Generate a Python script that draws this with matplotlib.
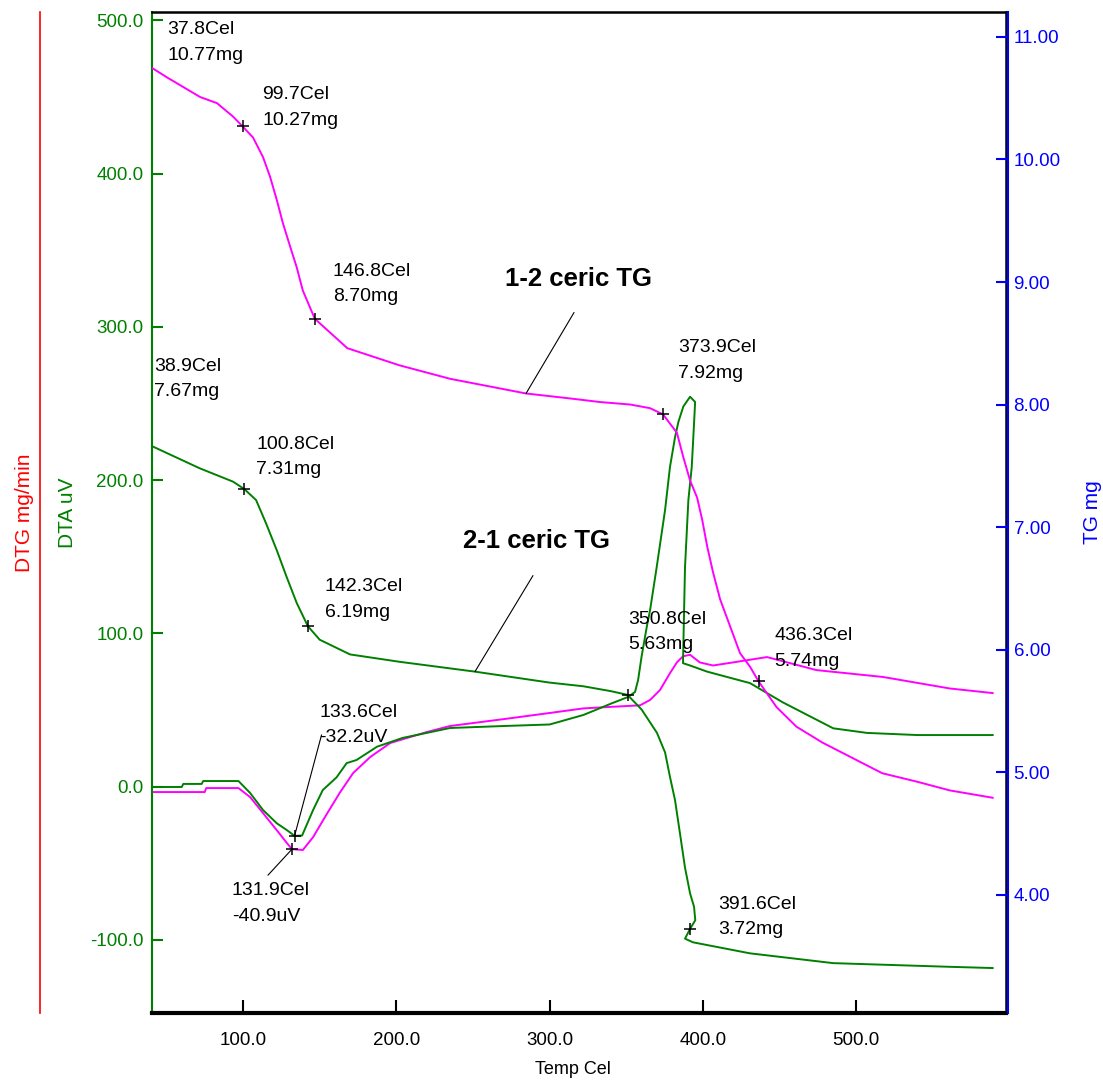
import matplotlib
matplotlib.use("Agg")
import matplotlib.pyplot as plt
import numpy as np

plt.rcParams['font.family'] = ['Liberation Sans', 'DejaVu Sans']

GREEN = '#008000'
MAGENTA = '#ff00ff'
BLUE = '#0000ff'
RED = '#ff0000'

# ---- data ----
# TG of "1-2 ceric" (magenta, mg)
tg12_T = [37.8, 50.4, 72, 83, 93.5, 99.7, 106.5, 113, 117.6, 122, 126, 130.7, 135, 139, 146.8,
          168, 202, 235, 284.6, 313, 333, 352.5, 365.5, 373.9, 383, 387.2, 391.6, 396.2,
          399.5, 402.8, 406.6, 411.2, 417.7, 424.2, 430.7, 436.3, 448, 461, 478, 517, 540,
          561, 589]
tg12_mg = [10.77, 10.67, 10.51, 10.46, 10.35, 10.27, 10.18, 10.02, 9.86, 9.67, 9.48, 9.29, 9.12,
           8.93, 8.70, 8.46, 8.32, 8.21, 8.09, 8.05, 8.02, 8.00, 7.97, 7.92, 7.77, 7.57, 7.38,
           7.24, 7.06, 6.84, 6.63, 6.41, 6.19, 5.97, 5.86, 5.74, 5.53, 5.37, 5.24, 4.99, 4.92,
           4.85, 4.79]

# TG of "2-1 ceric" (green, mg)
tg21_T = [38.9, 71.6, 93.5, 100.8, 108.5, 115, 122, 128.5, 135, 142.3, 150, 169.8, 202, 251,
          300, 322, 340, 350.8, 360, 370, 375.3, 378.5, 381.8, 385, 388.3, 391.6, 394.2,
          395, 391.6, 388.3, 393.5, 430.7, 485, 561, 589]
tg21_mg = [7.67, 7.48, 7.37, 7.31, 7.22, 7.03, 6.81, 6.59, 6.38, 6.19, 6.08, 5.96, 5.90, 5.82,
           5.73, 5.70, 5.66, 5.63, 5.51, 5.32, 5.16, 4.96, 4.77, 4.50, 4.22, 4.01, 3.90,
           3.79, 3.72, 3.64, 3.61, 3.52, 3.44, 3.41, 3.40]

# DTA of "2-1 ceric" (green, uV)
dta21_T = [38.9, 60, 61, 73, 74, 97, 104.6, 113, 122, 128.7, 133.6, 138.5, 145.7, 152,
           161, 167.6, 174, 187.4, 204, 235, 270, 300, 322, 341, 351, 355.7, 357.7, 360,
           363.5, 365.5, 369.8, 375.3, 378.5, 381.8, 384, 387.2, 391.6, 394.9, 394.2,
           392.7, 390.5, 388.3, 387.2, 387, 391.6, 402.7, 430.7, 452, 485, 507, 540, 589]
dta21_uV = [-0.3, -0.3, 1.7, 1.7, 3.6, 3.6, -4.2, -15.3, -24, -28.5, -32.2, -32, -15.3, -2.3,
            6, 15.3, 17.3, 26, 31.7, 38.2, 39.5, 40.5, 46.7, 54.5, 58.4, 61.7, 69.5, 85,
            105, 115, 143, 180.5, 208.6, 228, 238, 248, 254.4, 251, 237,
            208.6, 187, 143, 91, 80.5, 79, 75, 67.5, 55, 38, 35, 33.6, 33.6]

# DTA of "1-2 ceric" (magenta, uV)
dta12_T = [37.8, 75, 76, 97, 104.6, 113, 122, 128.7, 131.9, 139, 145.7, 155, 163, 171.8,
           183, 196, 220, 235, 270, 300, 322, 340, 359, 365.5, 372, 378.5, 383, 387,
           391.6, 398, 406.6, 419.6, 441.8, 474, 517.5, 561, 589]
dta12_uV = [-3.6, -3.6, -1, -1, -6.9, -17.3, -28.5, -37, -40.9, -41.4, -33, -17.3, -4.2, 8.8,
            19.3, 28.4, 35.6, 39.5, 44, 48, 51, 52, 53, 56.5, 63, 74, 81, 85,
            86, 81, 79, 81, 84.5, 76, 71.5, 64, 61]

# annotated points
tg12_note_T = [37.8, 99.7, 146.8, 373.9, 436.3]
tg12_note_mg = [10.77, 10.27, 8.70, 7.92, 5.74]
tg21_note_T = [38.9, 100.8, 142.3, 350.8, 391.6]
tg21_note_mg = [7.67, 7.31, 6.19, 5.63, 3.72]
dta_note_T = [133.6, 131.9]
dta_note_uV = [-32.2, -40.9]

x_ticks = [100, 200, 300, 400, 500]
dta_ticks = [-100, 0, 100, 200, 300, 400, 500]
tg_ticks = [4, 5, 6, 7, 8, 9, 10, 11]

# text offsets (pixels) for the labels
tg12_off = [(20, 44), (20, 40), (18, 56), (15, 75), (16, 54)]
tg21_off = [(5, 87), (12, 53), (17, 48), (1, 84), (28, 33)]
dta_off = [(25, 132), (-60, -33)]

# ---- figure ----
fig = plt.figure(figsize=(11.03, 10.86), dpi=100)
W, H = 1103, 1086
L, R, T, B = 152, 1006, 12, 1013
ax = fig.add_axes([L / W, 1 - B / H, (R - L) / W, (B - T) / H])
ax2 = ax.twinx()
ax3 = ax.twinx()

ax.set_xlim(40.6, 597.7)
ax.set_ylim(-147.8, 505.5)
ax2.set_ylim(3.033, 11.204)

ax.plot(dta12_T, dta12_uV, color=MAGENTA, lw=1.4)
ax.plot(dta21_T, dta21_uV, color=GREEN, lw=1.4)
ax2.plot(tg12_T, tg12_mg, color=MAGENTA, lw=1.4)
ax2.plot(tg21_T, tg21_mg, color=GREEN, lw=1.4)

# markers
ax2.plot(tg12_note_T[1:], tg12_note_mg[1:], ls='none', marker='+', ms=8, mew=1.1, color='black')
ax2.plot(tg21_note_T[1:], tg21_note_mg[1:], ls='none', marker='+', ms=8, mew=1.1, color='black')
ax.plot(dta_note_T, dta_note_uV, ls='none', marker='+', ms=8, mew=1.1, color='black')

note_kw = dict(textcoords='offset pixels', ha='left', va='top', fontsize=14,
               linespacing=1.65, annotation_clip=False)
for t, m, off in zip(tg12_note_T, tg12_note_mg, tg12_off):
    ax2.annotate(f"{t:.1f}Cel\n{m:.2f}mg", xy=(t, m), xytext=off, **note_kw)
for t, m, off in zip(tg21_note_T, tg21_note_mg, tg21_off):
    ax2.annotate(f"{t:.1f}Cel\n{m:.2f}mg", xy=(t, m), xytext=off, **note_kw)
for t, v, off in zip(dta_note_T, dta_note_uV, dta_off):
    ax.annotate(f"{t:.1f}Cel\n{v:.1f}uV", xy=(t, v), xytext=off, **note_kw)

# leader lines
lead = dict(arrowstyle='-', color='black', lw=0.8, shrinkA=0, shrinkB=0)
ax.annotate('', xy=(dta_note_T[0], dta_note_uV[0]), xytext=(27, 101),
            textcoords='offset pixels', arrowprops=lead)
ax.annotate('', xy=(dta_note_T[1], dta_note_uV[1]), xytext=(-24, -26),
            textcoords='offset pixels', arrowprops=lead)

# curve names
ax2.annotate('', xy=(284.6, 8.09), xytext=(48, 81), textcoords='offset pixels', arrowprops=lead)
ax2.annotate('1-2 ceric TG', xy=(284.6, 8.09), xytext=(-21, 126), textcoords='offset pixels',
             ha='left', va='top', fontsize=18.5, fontweight='bold')
ax2.annotate('', xy=(251.3, 5.82), xytext=(58, 96), textcoords='offset pixels', arrowprops=lead)
ax2.annotate('2-1 ceric TG', xy=(251.3, 5.82), xytext=(-12, 143), textcoords='offset pixels',
             ha='left', va='top', fontsize=18.5, fontweight='bold')

# ---- axes styling ----
ax.set_xticks(x_ticks)
ax.set_xticklabels([f"{v:.1f}" for v in x_ticks])
ax.set_yticks(dta_ticks)
ax.set_yticklabels([f"{v:.1f}" for v in dta_ticks])
ax2.set_yticks(tg_ticks)
ax2.set_yticklabels([f"{v:.2f}" for v in tg_ticks])

ax.tick_params(axis='x', direction='in', length=9.5, width=1.5, colors='black',
               labelsize=13.5, pad=14)
ax.tick_params(axis='y', direction='in', length=8, width=1.5, colors=GREEN,
               labelsize=13.5, pad=6)
ax2.tick_params(axis='y', direction='in', length=8.5, width=1.5, colors=BLUE,
                labelsize=13.5, pad=4)

ax.spines['left'].set_color(GREEN)
ax.spines['left'].set_linewidth(1.5)
ax.spines['top'].set_color('black')
ax.spines['top'].set_linewidth(1.8)
ax.spines['bottom'].set_color('black')
ax.spines['bottom'].set_linewidth(3)
ax.spines['right'].set_color('black')
ax.spines['right'].set_linewidth(1.8)

for s in ['left', 'top', 'bottom']:
    ax2.spines[s].set_visible(False)
ax2.spines['right'].set_color(BLUE)
ax2.spines['right'].set_linewidth(1.5)
ax2.spines['right'].set_position(('outward', 1.4))

for s in ['right', 'top', 'bottom']:
    ax3.spines[s].set_visible(False)
ax3.spines['left'].set_visible(True)
ax3.spines['left'].set_color(RED)
ax3.spines['left'].set_linewidth(1.2)
ax3.spines['left'].set_position(('outward', 80.5))
ax3.set_yticks([])
ax3.yaxis.set_label_position('left')

ax.set_xlabel('Temp Cel', fontsize=13)
ax.xaxis.set_label_coords(0.493, -0.048)
ax.set_ylabel('DTA uV', fontsize=15, color=GREEN)
ax.yaxis.set_label_coords(-0.088, 0.5)
ax2.set_ylabel('TG mg', fontsize=15, color=BLUE)
ax2.yaxis.set_label_coords(1.09, 0.5)
ax3.set_ylabel('DTG mg/min', fontsize=15, color=RED)
ax3.yaxis.set_label_coords(-0.138, 0.5)

fig.savefig('out.png', dpi=100)
